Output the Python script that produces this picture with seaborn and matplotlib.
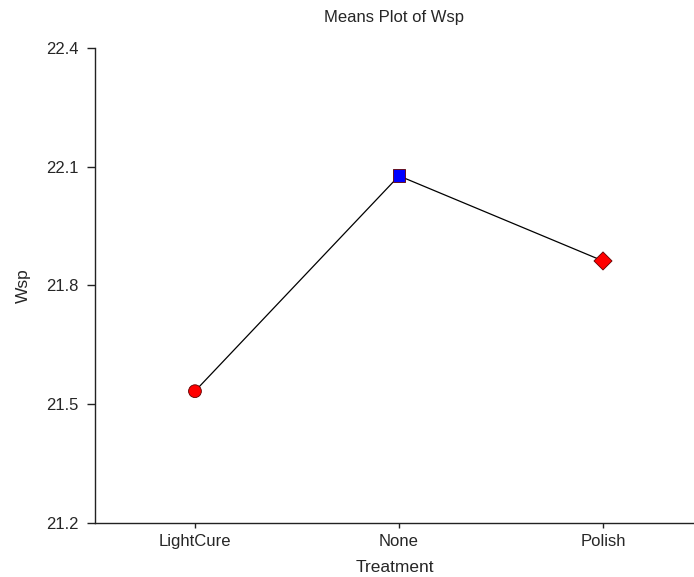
import matplotlib
matplotlib.use("Agg")
import matplotlib.pyplot as plt
import seaborn as sns
import pandas as pd

treatments = ["LightCure", "None", "Polish"]
means = [21.533, 22.077, 21.862]
marker_shapes = {"LightCure": "o", "None": "s", "Polish": "D"}
marker_colors = {"LightCure": "#ff0000", "None": "#0000ff", "Polish": "#ff0000"}
yticks = [21.2, 21.5, 21.8, 22.1, 22.4]

sns.set_style("white")
plt.rcParams["font.family"] = ["Liberation Sans", "DejaVu Sans"]

df = pd.DataFrame({"Treatment": treatments, "Wsp": means})
df["pos"] = range(len(treatments))

fig = plt.figure(figsize=(6.94, 5.77), dpi=100)
ax = fig.add_axes([95/694, 54/577, 599/694, 475/577])

sns.lineplot(data=df, x="pos", y="Wsp", color="black", linewidth=0.9, ax=ax, legend=False)
sns.scatterplot(data=df, x="pos", y="Wsp", hue="Treatment", style="Treatment",
                markers=marker_shapes, palette=marker_colors, s=85,
                edgecolor="#600000", linewidth=0.6, ax=ax, legend=False, zorder=3)

ax.set_xlim(-0.49, 2.446)
ax.set_ylim(21.2, 22.4)
ax.set_yticks(yticks)
ax.set_yticklabels([f"{v:.1f}" for v in yticks])
ax.set_xticks(df["pos"])
ax.set_xticklabels(treatments)

for s in ["top", "right"]:
    ax.spines[s].set_visible(False)
for s in ["left", "bottom"]:
    ax.spines[s].set_color("#222222")
    ax.spines[s].set_linewidth(1.0)

ax.tick_params(axis="y", direction="out", length=5.5, width=1, color="#222222", labelsize=12, pad=6.5, left=True)
ax.tick_params(axis="x", direction="out", length=3.6, width=1, color="#222222", labelsize=12, pad=4.5, bottom=True)

ax.set_xlabel("Treatment", fontsize=12.5, labelpad=8)
ax.set_ylabel("Wsp", fontsize=12.5, labelpad=11)
ax.set_title("Means Plot of Wsp", fontsize=12, pad=19)

fig.savefig("out.png", dpi=100)
